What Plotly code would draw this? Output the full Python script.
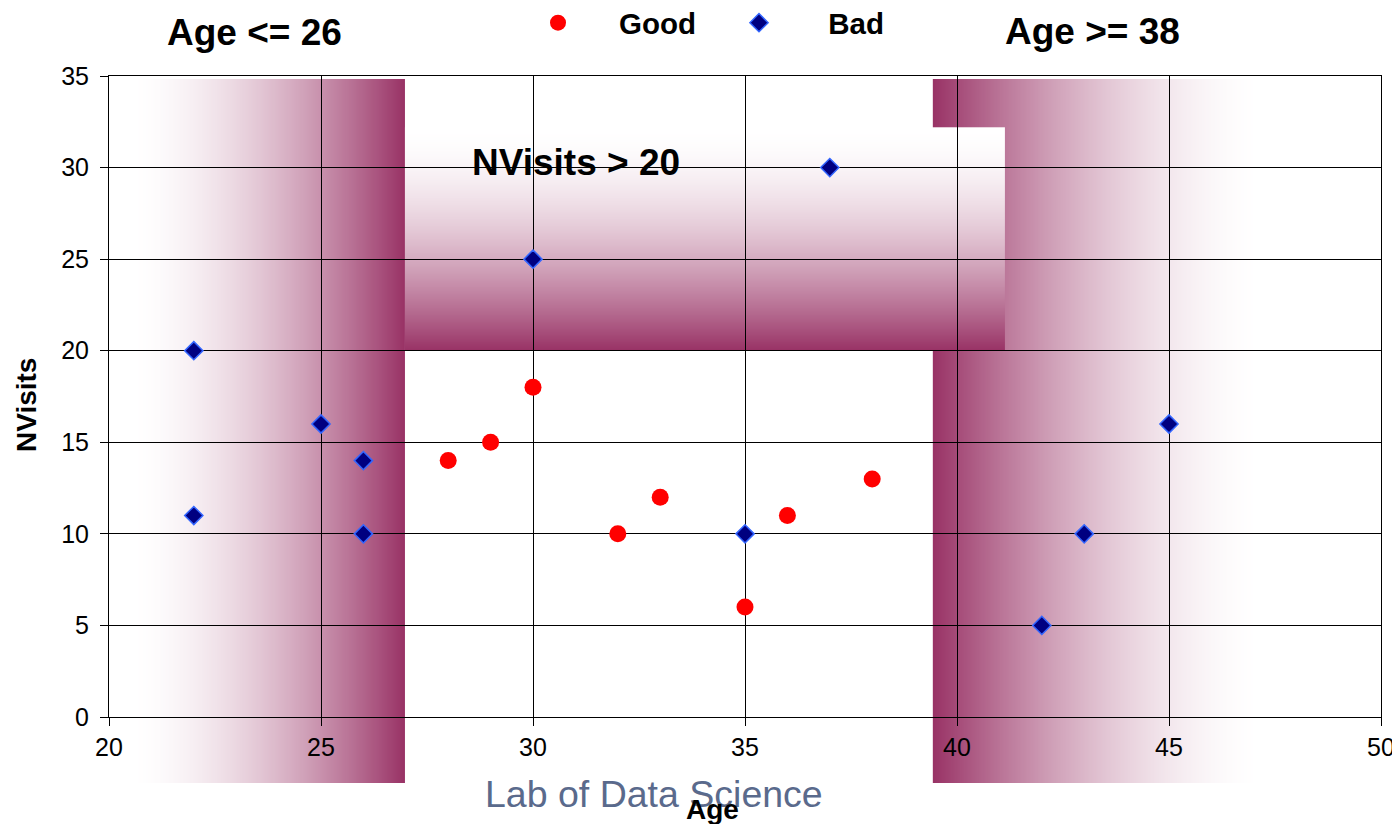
import zlib, struct, base64
import plotly.graph_objects as go

# ---- data ----
good_age = [28, 29, 30, 32, 33, 35, 36, 38]
good_nvisits = [14, 15, 18, 10, 12, 6, 11, 13]
bad_age = [22, 22, 25, 26, 26, 30, 35, 37, 42, 43, 45]
bad_nvisits = [20, 11, 16, 14, 10, 25, 10, 30, 5, 10, 16]

x_ticks = [20, 25, 30, 35, 40, 45, 50]
y_ticks = [0, 5, 10, 15, 20, 25, 30, 35]

MAROON = (153, 51, 102)
FONT = "Liberation Sans, Arial, sans-serif"
GAMMA = 1.7


def png_uri(width, height, pix):
    raw = bytearray()
    for yy in range(height):
        raw.append(0)
        for xx in range(width):
            raw.extend(pix(xx, yy))

    def chunk(t, d):
        return struct.pack(">I", len(d)) + t + d + struct.pack(">I", zlib.crc32(t + d) & 0xFFFFFFFF)

    png = (b"\x89PNG\r\n\x1a\n"
           + chunk(b"IHDR", struct.pack(">IIBBBBB", width, height, 8, 2, 0, 0, 0))
           + chunk(b"IDAT", zlib.compress(bytes(raw)))
           + chunk(b"IEND", b""))
    return "data:image/png;base64," + base64.b64encode(png).decode()


def mix(t):
    t = t ** GAMMA
    return bytes(int(round(255 + (c - 255) * t)) for c in MAROON)


N = 256
grad_to_right = png_uri(N, 1, lambda x, y: mix(x / (N - 1)))      # white -> maroon
grad_to_left = png_uri(N, 1, lambda x, y: mix(1 - x / (N - 1)))   # maroon -> white
grad_down = png_uri(1, N, lambda x, y: mix(y / (N - 1)))          # white (top) -> maroon (bottom)

fig = go.Figure()

fig.add_trace(go.Scatter(
    x=good_age, y=good_nvisits, mode="markers", name="     Good",
    marker=dict(symbol="circle", size=17, color="#FF0000", line=dict(width=0)),
))
fig.add_trace(go.Scatter(
    x=bad_age, y=bad_nvisits, mode="markers", name="      Bad",
    marker=dict(symbol="diamond", size=14, color="#000080",
                line=dict(width=1.5, color="#3366FF")),
))

# page has an 8px body margin: figure sized so it fits the 1400x824 window
OFF = 8
W, H = 1400 - OFF, 824 - OFF
L, R, T, B = 101, 19, 68, 107
pw, ph = W - L - R, H - T - B


def px(sx):
    return (sx - OFF - L) / pw


def py(sy):
    return (H - B - (sy - OFF)) / ph


# decorative gradient regions (x in data units, y in paper units)
y_top = py(79)
y_bot = py(783)
images = [
    dict(source=grad_to_right, xref="x", yref="paper", x=20.5, y=y_top,
         sizex=26.98 - 20.5, sizey=y_top - y_bot),
    dict(source=grad_to_left, xref="x", yref="paper", x=39.43, y=y_top,
         sizex=47.2 - 39.43, sizey=y_top - y_bot),
    dict(source=grad_down, xref="x", yref="paper", x=26.98, y=32.2 / 35,
         sizex=41.13 - 26.98, sizey=(32.2 - 20) / 35),
]
for im in images:
    im.update(sizing="stretch", xanchor="left", yanchor="top", layer="below", opacity=1)
fig.update_layout(images=images)

ann = [
    dict(text="<b>Age <= 26</b>", x=254, y=33, size=37, color="black"),
    dict(text="<b>Age >= 38</b>", x=1092, y=31, size=37, color="black"),
    dict(text="<b>NVisits > 20</b>", x=576, y=162, size=37, color="black"),
    dict(text="Lab of Data Science", x=654, y=794, size=37.5, color="#5a6a8c"),
    dict(text="<b>Age</b>", x=712, y=809, size=28, color="black"),
]
annotations = []
for a in ann:
    annotations.append(dict(
        text=a["text"], xref="paper", yref="paper",
        x=px(a["x"]), y=py(a["y"]),
        xanchor="center", yanchor="middle", showarrow=False,
        font=dict(family=FONT, size=a["size"], color=a["color"]),
    ))
annotations.append(dict(
    text="<b>NVisits</b>", xref="paper", yref="paper",
    x=px(27), y=py(405), textangle=-90,
    xanchor="center", yanchor="middle", showarrow=False,
    font=dict(family=FONT, size=28, color="black"),
))

axis_common = dict(
    showgrid=True, gridcolor="black", gridwidth=1,
    showline=True, linecolor="black", linewidth=1, mirror=True,
    ticks="outside", ticklen=8, tickcolor="black", tickwidth=1,
    zeroline=False, automargin=False,
    tickfont=dict(family=FONT, size=25, color="black"),
)

fig.update_layout(
    width=W, height=H,
    margin=dict(l=L, r=R, t=T, b=B, pad=0, autoexpand=False),
    paper_bgcolor="white", plot_bgcolor="white",
    font=dict(family=FONT, color="black"),
    xaxis=dict(range=[20, 50], tickvals=x_ticks, ticktext=[str(v) for v in x_ticks], **axis_common),
    yaxis=dict(range=[0, 35], tickvals=y_ticks, ticktext=[str(v) for v in y_ticks],
               ticklabelstandoff=6, **axis_common),
    showlegend=True,
    legend=dict(orientation="h", x=px(538), y=py(23),
                xanchor="left", yanchor="middle",
                entrywidth=156, entrywidthmode="pixels",
                font=dict(family=FONT, size=29.5, color="black", weight="bold"),
                bgcolor="rgba(0,0,0,0)", borderwidth=0),
    annotations=annotations,
)

fig.write_html("out.html")
